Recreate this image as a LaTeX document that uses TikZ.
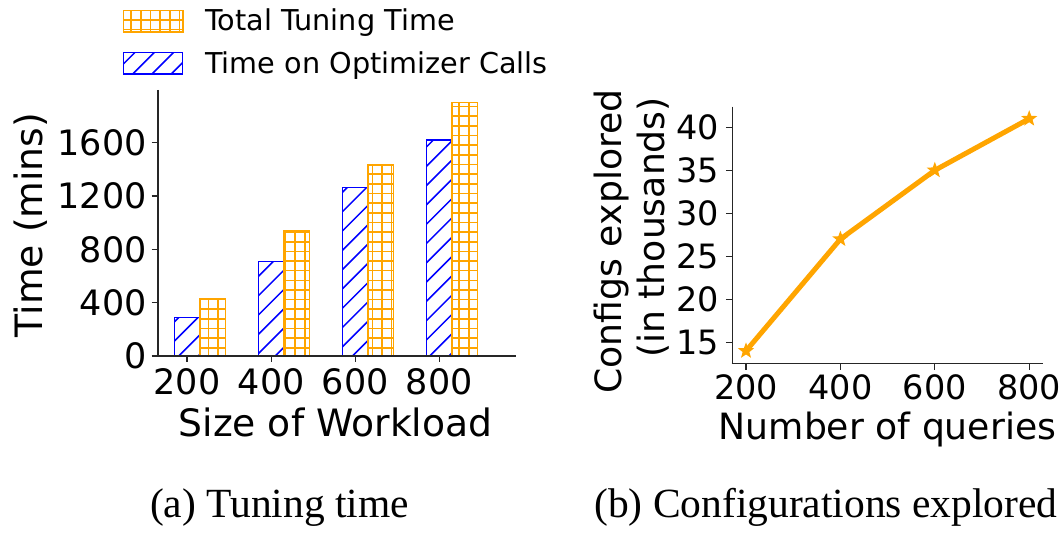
\documentclass[tikz,border=0pt]{standalone}
\usepackage{fontspec}
\newfontfamily\plotfont{DejaVu Sans}
\newfontfamily\capfont{Liberation Serif}
\usetikzlibrary{shapes.geometric}
\definecolor{barblue}{RGB}{0,0,255}
\definecolor{barorange}{RGB}{255,165,0}

% bar with '/' hatching (x0,y0,x1,y1)
\newcommand\diagbar[4]{%
  \begin{scope}
    \clip (#1,#2) rectangle (#3,#4);
    \foreach \k in {0,...,44} {
      \draw[hatchblue] ({13.7+\k*19.3-370},370) -- ({13.7+\k*19.3},0);
    }
  \end{scope}
  \draw[bluebar] (#1,#2) rectangle (#3,#4);
}
% bar with '+' grid hatching (x0,y0,x1,y1)
\newcommand\gridbar[4]{%
  \begin{scope}
    \clip (#1,#2) rectangle (#3,#4);
    \foreach \k in {0,...,55} {
      \draw[hatchorange] ({5.65+\k*9.65},0) -- ({5.65+\k*9.65},370);
    }
    \foreach \k in {0,...,38} {
      \draw[hatchorange] (0,{0.5+\k*9.65}) -- (540,{0.5+\k*9.65});
    }
  \end{scope}
  \draw[orangebar] (#1,#2) rectangle (#3,#4);
}

\begin{document}
\begin{tikzpicture}[x=1pt,y=-1pt,
  spine/.style={line width=1.3pt, black!85},
  tickmark/.style={line width=1.3pt, black!85},
  hatchblue/.style={line width=1.5pt, barblue},
  hatchorange/.style={line width=1.6pt, barorange},
  bluebar/.style={line width=1.5pt, barblue},
  orangebar/.style={line width=1.6pt, barorange},
  tickL/.style={inner sep=0pt, font=\plotfont\fontsize{35}{42}\selectfont},
  tickR/.style={inner sep=0pt, font=\plotfont\fontsize{33.5}{40}\selectfont},
  axlblL/.style={inner sep=0pt, font=\plotfont\fontsize{37.7}{45}\selectfont},
  axlblR/.style={inner sep=0pt, font=\plotfont\fontsize{36.2}{43}\selectfont},
  legtext/.style={inner sep=0pt, anchor=base west, font=\plotfont\fontsize{28.7}{34}\selectfont},
  caption/.style={inner sep=0pt, anchor=base, font=\capfont\fontsize{41.5}{50}\selectfont},
  trend/.style={line width=5pt, barorange, line join=round},
  starmark/.style={star, star points=5, star point ratio=2.4, fill=barorange,
    draw=none, inner sep=0pt, minimum size=17pt}
]
\useasboundingbox (0,0) rectangle (1063,534);

% ---------- legend ----------
\gridbar{123.3}{10.5}{182.7}{32}
\diagbar{123.3}{52.5}{182.7}{74}
\node[legtext] (legtotal) at (205,31) {Total Tuning Time};
\node[legtext] (legopt) at (205,73.3) {Time on Optimizer Calls};

% ---------- (a) bar chart ----------
\diagbar{174.3}{317.7}{199.8}{356}
\gridbar{199.8}{298.7}{225.3}{356}
\diagbar{258.4}{261.7}{283.9}{356}
\gridbar{283.9}{230.7}{309.4}{356}
\diagbar{342.5}{187.7}{368.0}{356}
\gridbar{368.0}{165.0}{393.5}{356}
\diagbar{426.6}{140.0}{452.1}{356}
\gridbar{452.1}{102.7}{477.6}{356}

\draw[spine] (158,90) -- (158,356.6);
\draw[spine] (157.4,356) -- (516,356);
\foreach \v/\yy in {0/356,400/302.67,800/249.33,1200/196,1600/142.67} {
  \draw[tickmark] (151.5,\yy) -- (158,\yy);
  \node[tickL, anchor=east] (ly\v) at (147,\yy) {\v};
}
\foreach \v/\xx in {200/187.05,400/271.15,600/355.25,800/439.35} {
  \draw[tickmark] (\xx,356) -- (\xx,362.5);
  \node[tickL, anchor=north] (lx\v) at (\xx,368) {\v};
}
\node[axlblL, rotate=90, anchor=base] (ylabA) at (42,225) {Time (mins)};
\node[axlblL, anchor=base] (xlabA) at (335.5,436) {Size of Workload};

% ---------- (b) line chart ----------
\draw[spine] (732.3,106.7) -- (732.3,363.9);
\draw[spine] (731.7,363.3) -- (1043.3,363.3);
\foreach \v/\yy in {15/342.3,20/299.3,25/256.3,30/213.3,35/170.3,40/127.3} {
  \draw[tickmark] (725.8,\yy) -- (732.3,\yy);
  \node[tickR, anchor=east] (ry\v) at (719,\yy) {\v};
}
\foreach \v/\xx in {200/746,400/840.4,600/934.8,800/1029.2} {
  \draw[tickmark] (\xx,363.3) -- (\xx,369.8);
  \node[tickR, anchor=north] (rx\v) at (\xx,374) {\v};
}
\coordinate (q200) at (746,350.9);
\coordinate (q400) at (840.4,239.1);
\coordinate (q600) at (934.8,170.3);
\coordinate (q800) at (1029.2,118.7);
\draw[trend] (q200) -- (q400) -- (q600) -- (q800);
\foreach \q in {200,400,600,800} {
  \node[starmark] (s\q) at (q\q) {};
}
\node[axlblR, rotate=90, anchor=base] (ylabB1) at (621,241.5) {Configs explored};
\node[axlblR, rotate=90, anchor=base] (ylabB2) at (664,227.5) {(in thousands)};
\node[axlblR, anchor=base] (xlabB) at (887.5,439) {Number of queries};

% ---------- captions ----------
\node[caption] (capA) at (279.5,517) {(a) Tuning time};
\node[caption] (capB) at (826,517) {(b) Configurations explored};
\end{tikzpicture}
\end{document}
